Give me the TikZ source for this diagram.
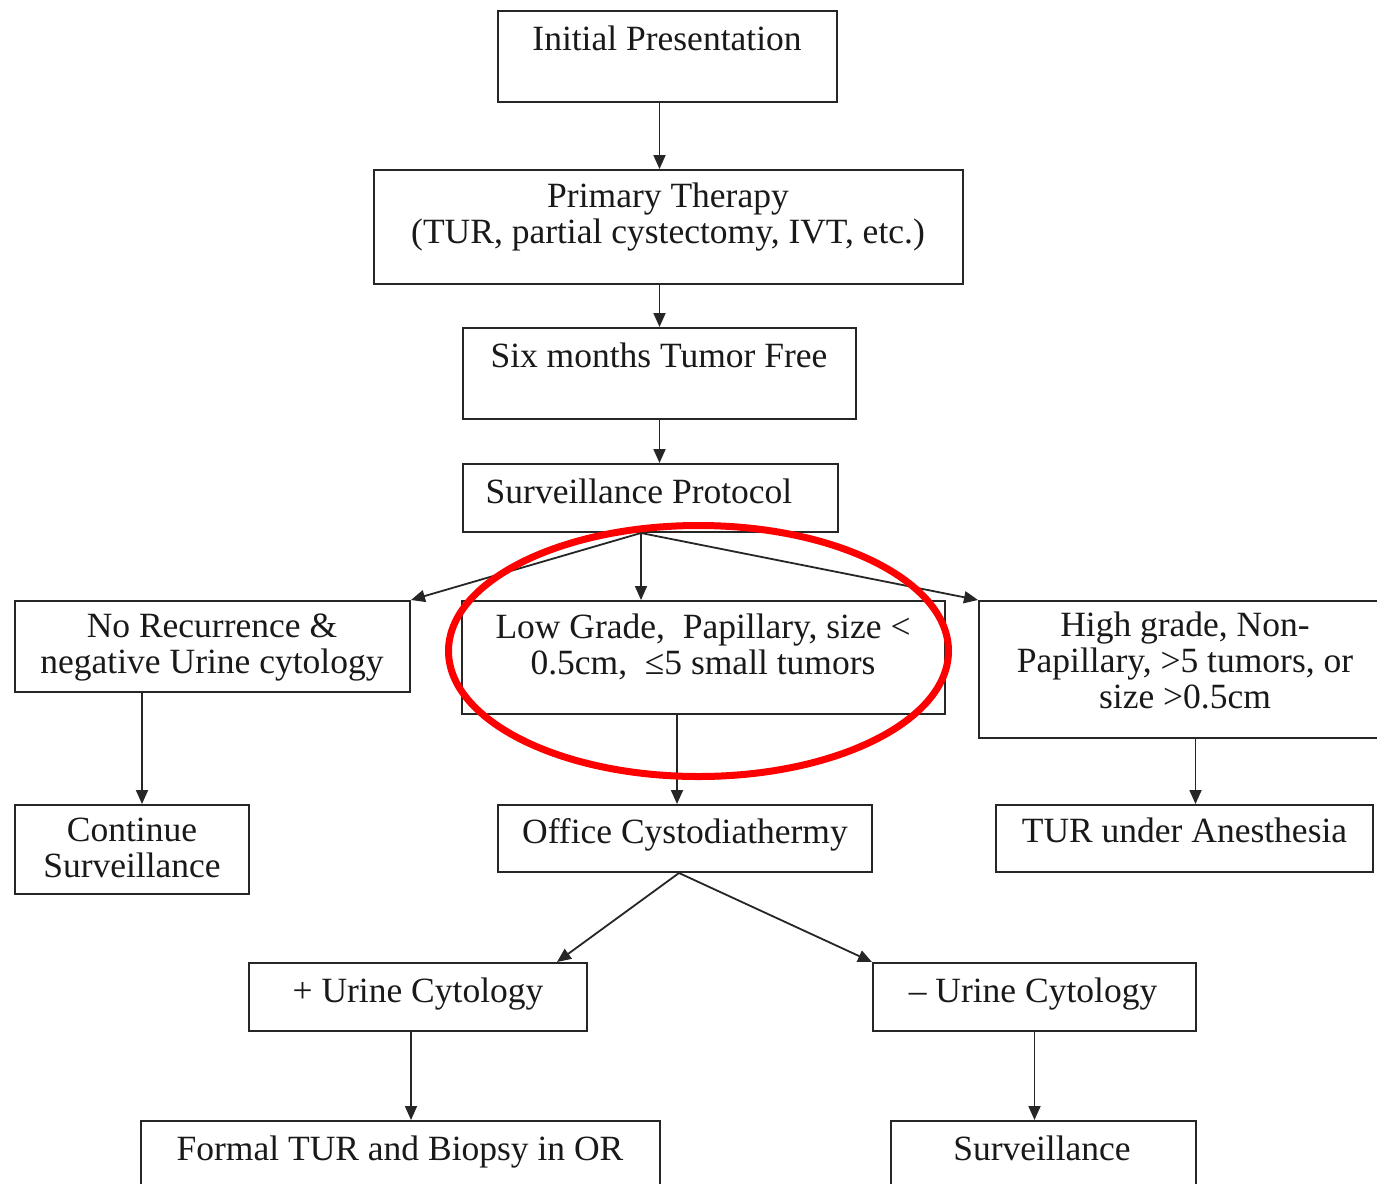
\documentclass[tikz,border=0pt]{standalone}
\usepackage{fontspec}
\setmainfont{Liberation Serif}
\usetikzlibrary{arrows.meta}
\begin{document}
\begin{tikzpicture}[x=1pt,y=-1pt,
  box/.style={draw=black!85, line width=2pt, rectangle, inner sep=0pt, anchor=north west},
  txt/.style={font=\fontsize{35.5}{36}\selectfont, anchor=base, align=center, inner sep=0pt, text=black!90},
  arr/.style={draw=black!85, line width=1.8pt, -{Triangle[length=14pt,width=12pt]}},
  hl/.style={draw=red, line width=7pt}]
\useasboundingbox (0,0) rectangle (1377,1184);
\clip (0,0) rectangle (1377,1184);
\fill[white] (0,0) rectangle (1377,1184);
% boxes
\node[box, minimum width=339, minimum height=91] (init) at (497,10) {};
\node[box, minimum width=589, minimum height=114] (prim) at (373,169) {};
\node[box, minimum width=393, minimum height=91] (six) at (462,327) {};
\node[box, minimum width=375, minimum height=68] (surv) at (462,463) {};
\node[box, minimum width=395, minimum height=91] (norec) at (14,600) {};
\node[box, minimum width=483, minimum height=113] (low) at (461,600) {};
\node[box, minimum width=402, minimum height=137] (high) at (978,600) {};
\node[box, minimum width=234, minimum height=89] (cont) at (14,804) {};
\node[box, minimum width=374, minimum height=67] (office) at (497,804) {};
\node[box, minimum width=377, minimum height=67] (tur) at (995,804) {};
\node[box, minimum width=338, minimum height=68] (plus) at (248,962) {};
\node[box, minimum width=323, minimum height=68] (minus) at (872,962) {};
\node[box, minimum width=519, minimum height=100] (formal) at (140,1120) {};
\node[box, minimum width=305, minimum height=100] (bsurv) at (890,1120) {};
% texts (anchor = baseline of the last line)
\node[txt] (initT) at (667,50) {Initial Presentation};
\node[txt] (primT) at (668,243) {Primary Therapy\\(TUR, partial cystectomy, IVT, etc.)};
\node[txt] (sixT) at (659,367) {Six months Tumor Free};
\node[txt] (survT) at (639,503) {Surveillance Protocol};
\node[txt] (norecT) at (212,673) {No Recurrence \&\\negative Urine cytology};
\node[txt] (lowT) at (703,674) {Low Grade,\ \ Papillary, size <\\0.5cm,\ \ ≤5 small tumors};
\node[txt] (highT) at (1185,708) {High grade, Non-\\Papillary, >5 tumors, or\\size >0.5cm};
\node[txt] (contT) at (132,877) {Continue\\Surveillance};
\node[txt] (officeT) at (685,843) {Office Cystodiathermy};
\node[txt] (turT) at (1184.5,842) {TUR under Anesthesia};
\node[txt] (plusT) at (418,1002) {+ Urine Cytology};
\node[txt] (minusT) at (1033,1002) {– Urine Cytology};
\node[txt] (formalT) at (400,1160) {Formal TUR and Biopsy in OR};
\node[txt] (bsurvT) at (1042,1160) {Surveillance};
% connectors
\draw[arr] (init.south -| six.north) -- (prim.north -| six.north);
\draw[arr] (prim.south -| six.north) -- (six.north);
\draw[arr] (six.south) -- (surv.north -| six.south);
\path ([xshift=-9.5pt]surv.south) coordinate (sp);
\draw[arr] (sp) -- (norec.north east);
\draw[arr] (sp) -- (low.north -| sp);
\draw[arr] (sp) -- (high.north west);
\path ([xshift=-70.5pt]norec.south) coordinate (nrs);
\draw[arr] (nrs) -- (nrs |- cont.north);
\path ([xshift=-26.5pt]low.south) coordinate (ls);
\draw[arr] (ls) -- (ls |- office.north);
\path ([xshift=15.5pt]high.south) coordinate (hs);
\draw[arr] (hs) -- (hs |- tur.north);
\path ([xshift=-6pt]office.south) coordinate (os);
\draw[arr] (os) -- ([xshift=-31pt]plus.north east);
\draw[arr] (os) -- (minus.north west);
\path ([xshift=-7pt]plus.south) coordinate (ps);
\draw[arr] (ps) -- (ps |- formal.north);
\draw[arr] (minus.south) -- (minus.south |- bsurv.north);
% highlight
\draw[hl] (698.5,651) ellipse [x radius=250, y radius=125.5];
\end{tikzpicture}
\end{document}
